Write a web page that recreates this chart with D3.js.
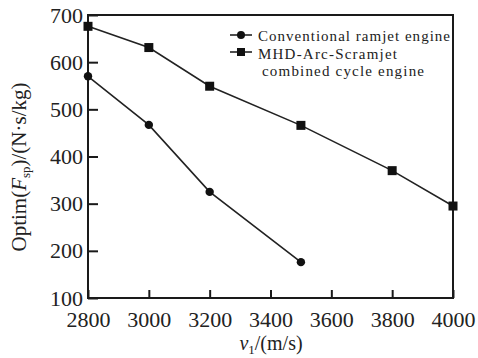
<!DOCTYPE html>
<html>
<head>
<meta charset="utf-8">
<script src="https://cdn.jsdelivr.net/npm/d3@7"></script>
<style>
  body { margin: 0; background: #fff; }
  text { font-family: "Liberation Serif", "Times New Roman", serif; fill: #222; }
</style>
</head>
<body>
<script>
// data
const ramjetX = [2800, 3000, 3200, 3500];
const ramjetY = [570, 467, 325, 176];
const mhdX = [2800, 3000, 3200, 3500, 3800, 4000];
const mhdY = [676, 631, 549, 466, 370, 295];
const xTicks = [2800, 3000, 3200, 3400, 3600, 3800, 4000];
const yTicks = [100, 200, 300, 400, 500, 600, 700];
const seriesNames = ["Conventional ramjet engine", "MHD-Arc-Scramjet", "combined cycle engine"];

let width = 478, height = 358;
let plotLeft = 88, plotRight = 453, plotTop = 15, plotBottom = 298;

let svg = d3.select("body").append("svg")
  .attr("width", width)
  .attr("height", height);

let x = d3.scaleLinear().domain([2800, 4000]).range([plotLeft, plotRight]);
let y = d3.scaleLinear().domain([100, 700]).range([plotBottom, plotTop]);

// frame
svg.append("rect")
  .attr("x", plotLeft).attr("y", plotTop)
  .attr("width", plotRight - plotLeft).attr("height", plotBottom - plotTop)
  .attr("fill", "none").attr("stroke", "#1a1a1a").attr("stroke-width", 2);

// axes, ticks point inward
let xAxis = d3.axisBottom(x).tickValues(xTicks).tickFormat(d3.format("d"))
  .tickSize(-8).tickPadding(13).tickSizeOuter(0);
let yAxis = d3.axisLeft(y).tickValues(yTicks).tickFormat(d3.format("d"))
  .tickSize(-10).tickPadding(5).tickSizeOuter(0);

let gx = svg.append("g")
  .attr("transform", "translate(0," + plotBottom + ")")
  .call(xAxis);
let gy = svg.append("g")
  .attr("transform", "translate(" + plotLeft + ",0)")
  .call(yAxis);

[gx, gy].forEach(g => {
  g.select(".domain").remove();
  g.selectAll(".tick line").attr("stroke", "#1a1a1a").attr("stroke-width", 2);
  g.selectAll(".tick text")
    .style("font-family", '"Liberation Serif", serif')
    .style("font-size", "22px")
    .attr("fill", "#222");
});

// lines
let line = d3.line().x(d => x(d[0])).y(d => y(d[1]));
let ramjet = ramjetX.map((v, i) => [v, ramjetY[i]]);
let mhd = mhdX.map((v, i) => [v, mhdY[i]]);

svg.append("path").datum(ramjet)
  .attr("d", line).attr("fill", "none").attr("stroke", "#222").attr("stroke-width", 1.6);
svg.append("path").datum(mhd)
  .attr("d", line).attr("fill", "none").attr("stroke", "#222").attr("stroke-width", 1.6);

svg.append("g").selectAll("circle")
  .data(ramjet).enter().append("circle")
  .attr("cx", d => x(d[0])).attr("cy", d => y(d[1]))
  .attr("r", 4.2).attr("fill", "#111");

svg.append("g").selectAll("rect")
  .data(mhd).enter().append("rect")
  .attr("x", d => x(d[0]) - 4.5).attr("y", d => y(d[1]) - 4.5)
  .attr("width", 9).attr("height", 9).attr("fill", "#111");

// legend
let legend = svg.append("g");
legend.append("line").attr("x1", 230).attr("x2", 252).attr("y1", 35).attr("y2", 35)
  .attr("stroke", "#222").attr("stroke-width", 1.6);
legend.append("circle").attr("cx", 241).attr("cy", 35).attr("r", 4).attr("fill", "#111");
legend.append("line").attr("x1", 230).attr("x2", 252).attr("y1", 52).attr("y2", 52)
  .attr("stroke", "#222").attr("stroke-width", 1.6);
legend.append("rect").attr("x", 237).attr("y", 48).attr("width", 8).attr("height", 8).attr("fill", "#111");

// slightly smaller glyphs, widened to the reference's run length
legend.append("text").attr("x", 258).attr("y", 41).style("font-size", "15px")
  .attr("textLength", 192).attr("lengthAdjust", "spacing").text(seriesNames[0]);
legend.append("text").attr("x", 258).attr("y", 58.5).style("font-size", "15px")
  .attr("textLength", 139).attr("lengthAdjust", "spacing").text(seriesNames[1]);
legend.append("text").attr("x", 262).attr("y", 76).style("font-size", "15px")
  .attr("textLength", 162).attr("lengthAdjust", "spacing").text(seriesNames[2]);

// y label
let yl = svg.append("text")
  .attr("transform", "translate(26,167) rotate(-90)")
  .attr("text-anchor", "middle")
  .style("font-size", "21px");
yl.append("tspan").text("Optim(");
yl.append("tspan").style("font-style", "italic").text("F");
yl.append("tspan").attr("dy", 4).style("font-size", "13px").text("sp");
yl.append("tspan").attr("dy", -4).text(")/(N·s/kg)");

// x label
let xl = svg.append("text")
  .attr("x", 271).attr("y", 350)
  .attr("text-anchor", "middle")
  .style("font-size", "20px");
xl.append("tspan").style("font-style", "italic").text("v");
xl.append("tspan").attr("dy", 4).style("font-size", "13px").text("1");
xl.append("tspan").attr("dy", -4).text("/(m/s)");
</script>
</body>
</html>
